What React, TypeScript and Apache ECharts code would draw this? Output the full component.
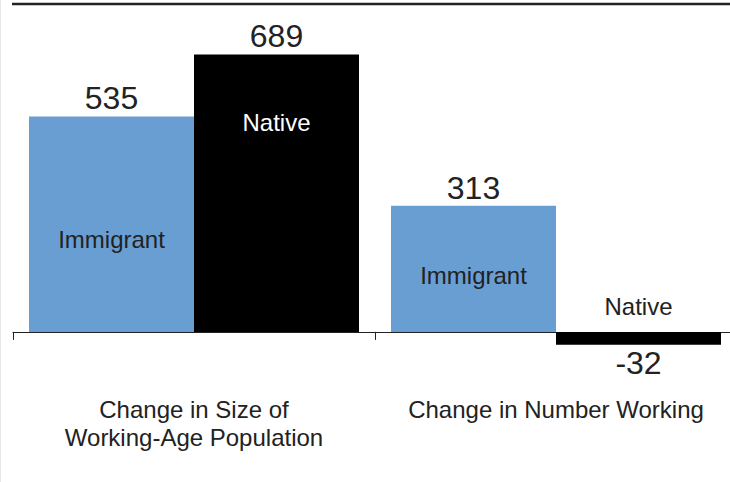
import React, { useEffect, useRef } from "react";
import * as echarts from "echarts";

// Categories along the x axis (two-line label for the first group)
const categories = ["Change in Size of\nWorking-Age Population", "Change in Number Working"];
// Change, in thousands
const immigrantValues = [535, 313];
const nativeValues = [689, -32];
const seriesNames = ["Immigrant", "Native"];

const FONT = "'Liberation Sans', Arial, Helvetica, sans-serif";
const TEXT = "#222222";
const BLUE = "#699ed3";
const BLACK = "#000000";

// The drawing surface runs a little past the right edge so the axis continues off-page
const CANVAS_W = 740;
const CANVAS_H = 482;

export default function App() {
  const ref = useRef<HTMLDivElement>(null);

  useEffect(() => {
    document.body.style.margin = "0";
    if (!ref.current) return;
    const chart = echarts.init(ref.current, undefined, {
      renderer: "svg",
      width: CANVAS_W,
      height: CANVAS_H,
    });

    const valueLabel = (v: number) => ({
      show: true,
      position: v >= 0 ? "top" : "bottom",
      distance: 2,
      fontSize: 32,
      fontFamily: FONT,
      color: TEXT,
      formatter: "{c}",
    });

    // Where the series name sits on each bar
    const immigrantNamePos = [
      { position: "insideBottom", distance: 80, color: TEXT },
      { position: "insideBottom", distance: 44, color: TEXT },
    ];
    const nativeNamePos = [
      { position: "insideTop", distance: 56, color: "#ffffff" },
      { position: "top", distance: 13, color: TEXT },
    ];

    const nameSeries = (name: string, values: number[], pos: any[]) => ({
      type: "bar",
      name: name + " label",
      xAxisIndex: 1,
      barWidth: 165,
      barGap: "0%",
      silent: true,
      itemStyle: { color: "rgba(0,0,0,0)" },
      data: values.map((v, i) => ({
        value: v,
        label: {
          show: true,
          formatter: name,
          fontSize: 24,
          fontFamily: FONT,
          ...pos[i],
        },
      })),
    });

    chart.setOption({
      animation: false,
      grid: { left: 13, right: 3, top: 50, bottom: 134, containLabel: false },
      xAxis: [
        {
          type: "category",
          data: categories,
          axisLine: { show: true, onZero: true, lineStyle: { color: TEXT, width: 1 } },
          axisTick: { show: true, length: 8, lineStyle: { color: TEXT, width: 1 } },
          axisLabel: {
            color: TEXT,
            fontSize: 24,
            fontFamily: FONT,
            lineHeight: 28,
            margin: 47,
            interval: 0,
          },
        },
        { type: "category", data: categories, show: false },
      ],
      yAxis: {
        type: "value",
        min: -40,
        max: 700,
        show: false,
        splitLine: { show: false },
      },
      series: [
        {
          type: "bar",
          name: seriesNames[0],
          barWidth: 165,
          barGap: "0%",
          itemStyle: { color: BLUE },
          data: immigrantValues.map((v) => ({ value: v, label: valueLabel(v) })),
        },
        {
          type: "bar",
          name: seriesNames[1],
          barWidth: 165,
          barGap: "0%",
          itemStyle: { color: BLACK },
          data: nativeValues.map((v) => ({ value: v, label: valueLabel(v) })),
        },
        nameSeries(seriesNames[0], immigrantValues, immigrantNamePos),
        nameSeries(seriesNames[1], nativeValues, nativeNamePos),
      ],
      graphic: [
        {
          type: "line",
          shape: { x1: 12, y1: 4, x2: 740, y2: 4 },
          style: { stroke: "#222222", lineWidth: 2.5 },
          silent: true,
        },
        {
          type: "line",
          shape: { x1: 0.5, y1: 0, x2: 0.5, y2: 482 },
          style: { stroke: "#e6e6e6", lineWidth: 1 },
          silent: true,
        },
      ],
    });

    return () => chart.dispose();
  }, []);

  return <div ref={ref} style={{ width: 730, height: 482, overflow: "hidden" }} />;
}
